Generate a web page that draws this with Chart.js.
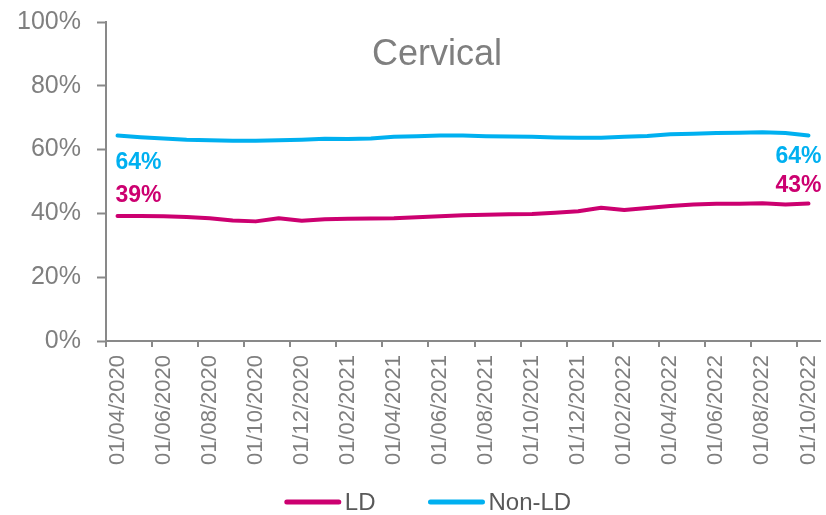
<!DOCTYPE html>
<html>
<head>
<meta charset="utf-8">
<script src="https://cdn.jsdelivr.net/npm/chart.js@4/dist/chart.umd.min.js"></script>
<style>
  html, body { margin: 0; padding: 0; background: #fff; }
  #wrap { width: 826px; height: 515px; position: relative; }
</style>
</head>
<body>
<div id="wrap"><canvas id="c" width="826" height="515"></canvas></div>
<script>
const categories = [
  '01/04/2020','01/05/2020','01/06/2020','01/07/2020','01/08/2020','01/09/2020',
  '01/10/2020','01/11/2020','01/12/2020','01/01/2021','01/02/2021','01/03/2021',
  '01/04/2021','01/05/2021','01/06/2021','01/07/2021','01/08/2021','01/09/2021',
  '01/10/2021','01/11/2021','01/12/2021','01/01/2022','01/02/2022','01/03/2022',
  '01/04/2022','01/05/2022','01/06/2022','01/07/2022','01/08/2022','01/09/2022',
  '01/10/2022'
];
const ldValues = [
  39.2, 39.2, 39.1, 38.9, 38.5, 37.8, 37.5, 38.5, 37.7, 38.2, 38.3, 38.4,
  38.5, 38.8, 39.1, 39.4, 39.6, 39.7, 39.8, 40.2, 40.7, 41.8, 41.1, 41.7,
  42.3, 42.8, 43.0, 43.0, 43.2, 42.8, 43.1
];
const nonLdValues = [
  64.4, 63.9, 63.5, 63.1, 62.9, 62.8, 62.8, 62.9, 63.1, 63.4, 63.3, 63.5,
  64.0, 64.2, 64.4, 64.4, 64.2, 64.1, 64.0, 63.8, 63.7, 63.7, 64.0, 64.3,
  64.8, 65.0, 65.2, 65.3, 65.4, 65.2, 64.4
];
const yTicks = [0, 20, 40, 60, 80, 100];
const seriesNames = ['LD', 'Non-LD'];
const chartTitle = 'Cervical';

const FONT = '"Liberation Sans", Arial, sans-serif';
const AXIS = '#898989';
const TEXT = '#7f7f7f';
const LD_COL = '#CC0070';
const NLD_COL = '#00B0F0';

function zeroPad(s) { s.paddingLeft = 0; s.paddingRight = 0; s.paddingTop = 0; s.paddingBottom = 0; }

const titlePlugin = {
  id: 'insideTitle',
  afterDraw(chart) {
    const ctx = chart.ctx;
    ctx.save();
    ctx.font = '36px ' + FONT;
    ctx.fillStyle = TEXT;
    ctx.textAlign = 'center';
    ctx.textBaseline = 'middle';
    ctx.fillText(chartTitle, 437, 55);
    ctx.restore();
  }
};

const endLabels = {
  id: 'endLabels',
  afterDatasetsDraw(chart) {
    const ctx = chart.ctx;
    ctx.save();
    ctx.font = 'bold 23px ' + FONT;
    ctx.textBaseline = 'middle';
    chart.data.datasets.forEach((ds, di) => {
      const meta = chart.getDatasetMeta(di);
      const pts = meta.data;
      const first = pts[0], last = pts[pts.length - 1];
      const fv = Math.round(ds.data[0]) + '%';
      const lv = Math.round(ds.data[ds.data.length - 1]) + '%';
      ctx.fillStyle = ds.borderColor;
      const below = di === 1;
      ctx.textAlign = 'left';
      ctx.fillText(fv, first.x - 2, first.y + (below ? 27 : -20));
      ctx.textAlign = 'right';
      ctx.fillText(lv, last.x + 13, last.y + (below ? 21 : -18));
    });
    ctx.restore();
  }
};

const legendPlugin = {
  id: 'customLegend',
  afterDraw(chart) {
    const ctx = chart.ctx;
    ctx.save();
    ctx.font = '24px ' + FONT;
    ctx.textBaseline = 'middle';
    ctx.textAlign = 'left';
    const y = 502;
    const lineW = 56, gapText = 4, gapItem = 53;
    const items = chart.data.datasets.map(ds => ({ label: ds.label, color: ds.borderColor, w: ctx.measureText(ds.label).width }));
    let total = 0;
    items.forEach((it, i) => { total += lineW + gapText + it.w + (i < items.length - 1 ? gapItem : 0); });
    let x = 428 - total / 2;
    items.forEach(it => {
      ctx.strokeStyle = it.color;
      ctx.lineWidth = 5;
      ctx.lineCap = 'round';
      ctx.beginPath();
      ctx.moveTo(x + 2, y);
      ctx.lineTo(x + lineW - 2, y);
      ctx.stroke();
      ctx.fillStyle = '#595959';
      ctx.fillText(it.label, x + lineW + gapText, y + 1);
      x += lineW + gapText + it.w + gapItem;
    });
    ctx.restore();
  }
};

new Chart(document.getElementById('c'), {
  type: 'line',
  data: {
    labels: categories,
    datasets: [
      { label: seriesNames[0], data: ldValues, borderColor: LD_COL, backgroundColor: LD_COL,
        borderWidth: 4, pointRadius: 0, tension: 0, borderCapStyle: 'round', borderJoinStyle: 'round' },
      { label: seriesNames[1], data: nonLdValues, borderColor: NLD_COL, backgroundColor: NLD_COL,
        borderWidth: 4, pointRadius: 0, tension: 0, borderCapStyle: 'round', borderJoinStyle: 'round' }
    ]
  },
  options: {
    responsive: false,
    animation: false,
    devicePixelRatio: 1,
    layout: { padding: { top: 22, right: 6, bottom: 45, left: 0 } },
    plugins: { legend: { display: false }, tooltip: { enabled: false }, title: { display: false } },
    scales: {
      x: {
        type: 'category',
        offset: true,
        afterFit: s => { s.height = 129; zeroPad(s); },
        border: { display: true, color: AXIS, width: 2 },
        grid: {
          offset: true,
          drawOnChartArea: false,
          drawTicks: true,
          tickLength: 6,
          lineWidth: 2,
          tickWidth: 2,
          color: AXIS,
          tickColor: ctx => (ctx.index % 2 === 0 ? AXIS : 'rgba(0,0,0,0)')
        },
        ticks: {
          autoSkip: false,
          minRotation: 90,
          maxRotation: 90,
          padding: 8,
          color: TEXT,
          font: { family: FONT, size: 22 },
          callback: function (v, i) { return i % 2 === 0 ? this.getLabelForValue(v) : ''; }
        }
      },
      y: {
        min: 0,
        max: 100,
        afterFit: s => { s.width = 106; zeroPad(s); },
        afterBuildTicks: s => { s.ticks = yTicks.map(v => ({ value: v })); },
        border: { display: true, color: AXIS, width: 2 },
        grid: { drawOnChartArea: false, tickLength: 9, tickWidth: 2, color: AXIS },
        ticks: {
          padding: 16,
          color: TEXT,
          font: { family: FONT, size: 25 },
          callback: v => v + '%'
        }
      }
    }
  },
  plugins: [titlePlugin, endLabels, legendPlugin]
});
</script>
</body>
</html>
